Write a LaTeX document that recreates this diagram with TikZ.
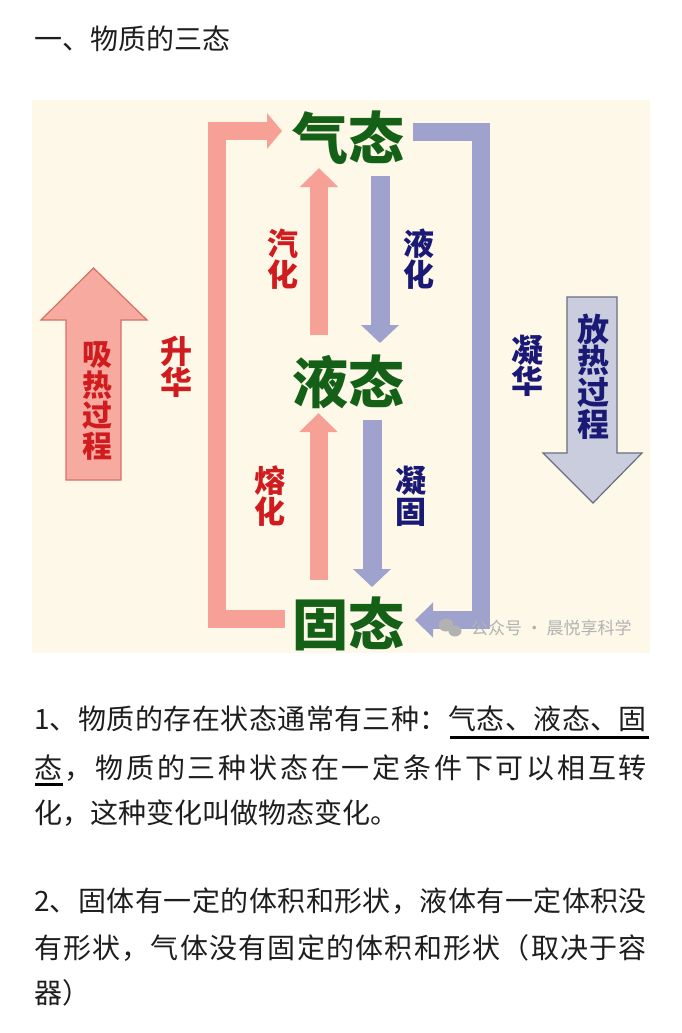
\documentclass[tikz,border=0pt]{standalone}
\usepackage{fontspec}
\setmainfont{Noto Sans CJK SC}
\usetikzlibrary{arrows.meta,calc}
\definecolor{creambg}{RGB}{253,248,232}
\definecolor{arrowpink}{RGB}{246,160,150}
\definecolor{arrowblue}{RGB}{158,162,205}
\definecolor{stategreen}{RGB}{20,96,22}
\definecolor{labelred}{RGB}{208,28,30}
\definecolor{labelblue}{RGB}{26,26,118}
\definecolor{bodytext}{RGB}{30,30,30}
\definecolor{absfill}{RGB}{247,170,160}
\definecolor{absborder}{RGB}{214,112,102}
\definecolor{relfill}{RGB}{202,205,222}
\definecolor{relborder}{RGB}{105,110,130}
\definecolor{wmgray}{RGB}{178,178,178}
\newcommand\SPline[2]{\hbox to #1{\SPfirst#2\relax}}
\def\SPfirst#1{#1\SPnext}
\def\SPnext#1{\ifx#1\relax\else\hfil#1\expandafter\SPnext\fi}
\begin{document}
\begin{tikzpicture}[x=1pt,y=-1pt,
  every node/.style={inner sep=0pt,outer sep=0pt},
  state/.style={font=\fontsize{56}{56}\selectfont\bfseries,text=stategreen},
  redlbl/.style={font=\fontsize{31}{31}\selectfont\bfseries,text=labelred,align=center},
  bluelbl/.style={font=\fontsize{31}{31}\selectfont\bfseries,text=labelblue,align=center},
  pinkarrow/.style={draw=arrowpink,line width=18pt,line join=miter,-{Triangle[length=19pt,width=37pt]}},
  bluearrow/.style={draw=arrowblue,line width=19pt,line join=miter,-{Triangle[length=18pt,width=37pt]}},
  bodyline/.style={font=\fontsize{28}{28}\selectfont,text=bodytext,anchor=base west},
  uline/.style={draw=black,line width=2.8pt},
]
\useasboundingbox (0,0) rectangle (681,1033);
\fill[white] (0,0) rectangle (681,1033);
\fill[creambg] (32,100) rectangle (650,653);

% title
\node[bodyline] (title) at (34,49) {一、物质的三态};

% states
\node[state] (gas) at (348,138) {气态};
\node[state] (liquid) at (348,382) {液态};
\node[state] (solid) at (348,624) {固态};

% small transitions
\draw[pinkarrow] ($(liquid)+(-29,-47)$) -- ($(gas)+(-29,30)$);
\draw[bluearrow] ($(gas)+(32,38)$) -- ($(liquid)+(32,-39)$);
\draw[pinkarrow] ($(solid)+(-29.5,-44)$) -- ($(liquid)+(-29.5,31)$);
\draw[bluearrow] ($(liquid)+(24,38)$) -- ($(solid)+(24,-37)$);

% sublimation / deposition
\draw[draw=arrowpink,line width=18pt,line join=miter,-{Triangle[length=15pt,width=35pt]}]
  ($(solid)+(-63,-5)$) -| ($(gas)+(-131,-7)$) -- ($(gas)+(-66,-7)$);
\draw[draw=arrowblue,line width=18pt,line join=miter,-{Triangle[length=18pt,width=34pt]}]
  ($(gas)+(65,-6)$) -| ($(solid)+(133,-4)$) -- ($(solid)+(67,-4)$);

% labels
\node[redlbl] (lvap) at (283,259) {汽\\化};
\node[bluelbl] (lliq) at (419,259) {液\\化};
\node[redlbl] (lmelt) at (270,496) {熔\\化};
\node[bluelbl] (lsol) at (411,496) {凝\\固};
\node[redlbl,font=\fontsize{32}{31}\selectfont\bfseries] (lsub) at (176,367) {升\\华};
\node[bluelbl,font=\fontsize{32}{31}\selectfont\bfseries] (ldep) at (527,366) {凝\\华};

% heat block arrows
\filldraw[fill=absfill,draw=absborder,line width=1.2pt]
  (66,480) -- (66,320) -- (41,320) -- (93.5,268) -- (147,320) -- (121,320) -- (121,480) -- cycle;
\node[font=\fontsize{30}{30.7}\selectfont\bfseries,text=labelred,align=center] (absorb) at (97,401) {吸\\热\\过\\程};
\filldraw[fill=relfill,draw=relborder,line width=1.2pt]
  (567,297) -- (617,297) -- (617,453) -- (642,453) -- (593,503) -- (543,453) -- (567,453) -- cycle;
\node[font=\fontsize{32}{31.7}\selectfont\bfseries,text=labelblue,align=center] (release) at (593,376.5) {放\\热\\过\\程};

% watermark
\fill[wmgray] (446,625) ellipse (7.5 and 6.5);
\fill[wmgray] (455,631) ellipse (6.5 and 5.5);
\node[font=\fontsize{17}{17}\selectfont,text=wmgray,anchor=west] (wm) at (471,628) {公众号 · 晨悦享科学};

% paragraph 1
\node[bodyline] (p1a) at (34,729) {\SPline{613pt}{1、物质的存在状态通常有三种：气态、液态、固}};
\node[bodyline] (p1b) at (34,778) {\SPline{613pt}{态，物质的三种状态在一定条件下可以相互转}};
\node[bodyline] (p1c) at (34,823) {化，这种变化叫做物态变化。};
\draw[uline] (450,737.5) -- (649,737.5);
\draw[uline] (35,784.5) -- (63,784.5);

% paragraph 2
\node[bodyline] (p2a) at (34,911) {\SPline{613pt}{2、固体有一定的体积和形状，液体有一定体积没}};
\node[bodyline] (p2b) at (34,958) {\SPline{613pt}{有形状，气体没有固定的体积和形状（取决于容}};
\node[bodyline] (p2c) at (34,1003) {器）};
\end{tikzpicture}
\end{document}
